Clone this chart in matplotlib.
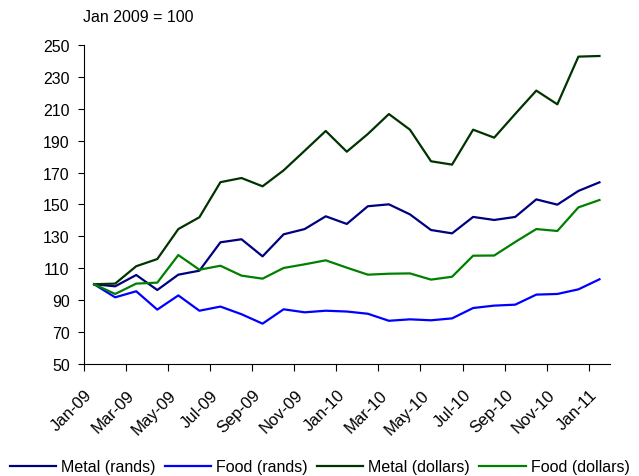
import numpy as np
import matplotlib
matplotlib.use("Agg")
import matplotlib.pyplot as plt
from matplotlib.transforms import ScaledTranslation

plt.rcParams['font.family'] = ['Liberation Sans', 'DejaVu Sans']

# monthly, Jan-09 .. Jan-11 (Jan 2009 = 100)
months = ['Jan-09', 'Feb-09', 'Mar-09', 'Apr-09', 'May-09', 'Jun-09', 'Jul-09', 'Aug-09',
          'Sep-09', 'Oct-09', 'Nov-09', 'Dec-09', 'Jan-10', 'Feb-10', 'Mar-10', 'Apr-10',
          'May-10', 'Jun-10', 'Jul-10', 'Aug-10', 'Sep-10', 'Oct-10', 'Nov-10', 'Dec-10', 'Jan-11']

metal_rands = [100, 98.7, 105.8, 96.4, 106, 108.5, 126.3, 128.2, 117.5, 131.3, 134.6, 142.6, 137.8,
               148.9, 150.1, 143.8, 134, 131.9, 142.2, 140.3, 142.2, 153.2, 149.9, 158.5, 163.9]
food_rands = [100, 91.8, 95.6, 84.1, 93, 83.4, 86, 81.2, 75.3, 84.3, 82.4, 83.4, 82.9,
              81.5, 77.1, 78, 77.4, 78.6, 85.1, 86.6, 87.2, 93.5, 93.9, 96.8, 103.1]
metal_dollars = [100, 100.4, 111.3, 115.8, 134.6, 142, 164, 166.6, 161.4, 171.4, 183.7, 196.1, 183.1,
                 194.2, 206.7, 196.9, 177.1, 175, 196.9, 191.9, 206.8, 221.4, 212.8, 242.7, 243.1]
food_dollars = [100, 93.9, 100.4, 101, 118.3, 109.1, 111.6, 105.4, 103.5, 110.2, 112.5, 115, 110.4,
                106, 106.6, 106.8, 102.9, 104.7, 117.9, 118, 126.5, 134.6, 133.4, 148.2, 152.8]

series = [('Metal (rands)', metal_rands, '#000080'),
          ('Food (rands)', food_rands, '#0000FF'),
          ('Metal (dollars)', metal_dollars, '#003300'),
          ('Food (dollars)', food_dollars, '#008000')]

fs = 11.5

fig = plt.figure(figsize=(6.39, 4.77), dpi=100)
ax = fig.add_axes([0.1308, 0.2348, 0.8238, 0.6688])

x = np.arange(len(months))
for name, vals, col in series:
    ax.plot(x, vals, color=col, lw=1.6, label=name)

ax.set_xlim(-0.5, len(months) - 0.5)
ax.set_ylim(50, 250)
ax.set_yticks(np.arange(50, 251, 20))
ax.tick_params(axis='y', direction='out', length=4, labelsize=fs, pad=6)

ax.set_xticks(np.arange(-0.5, len(months) - 1, 2))
ax.set_xticklabels([])
ax.tick_params(axis='x', which='major', direction='out', length=5)
ax.set_xticks(x[::2], minor=True)
ax.set_xticklabels(months[::2], minor=True, rotation=45, ha='right', va='top',
                   rotation_mode='anchor', fontsize=12)
ax.tick_params(axis='x', which='minor', length=0, pad=8)
shift = ScaledTranslation(-7 / 72, -8.5 / 72, fig.dpi_scale_trans)
for lab in ax.get_xticklabels(minor=True):
    lab.set_transform(lab.get_transform() + shift)

for s in ['top', 'right']:
    ax.spines[s].set_visible(False)

fig.text(83 / 639, 1 - 17 / 477, 'Jan 2009 = 100', fontsize=fs, va='center', ha='left')

fig.legend(loc='center', bbox_to_anchor=(0.5, 1 - 468 / 477), ncol=4, frameon=False,
           fontsize=fs, handlelength=2.9, columnspacing=0.6, handletextpad=0.3,
           borderaxespad=0, borderpad=0)

fig.savefig('out.png', dpi=100)
